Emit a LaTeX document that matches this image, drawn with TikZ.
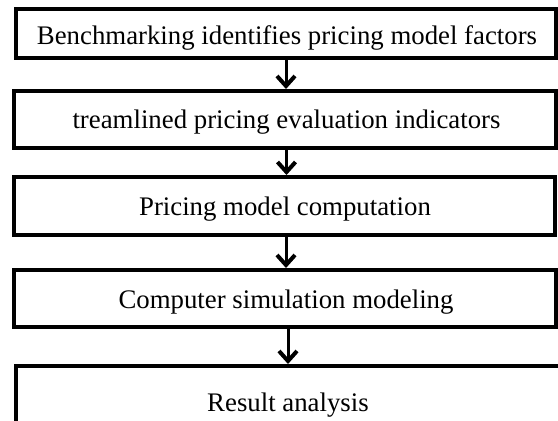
\documentclass[tikz,border=0pt]{standalone}
\usepackage{fontspec}
\setmainfont{Liberation Serif}
\usetikzlibrary{arrows.meta}
\begin{document}
\begin{tikzpicture}[x=1pt,y=-1pt,
  stepbox/.style={draw=black,line width=4pt,rectangle,inner sep=0pt},
  steptext/.style={anchor=base,inner sep=0pt,font=\fontsize{26.8pt}{30pt}\selectfont},
  arr/.style={draw=black,line width=3pt,-{Straight Barb[length=10pt,width=18pt,line width=4pt]}}]
\useasboundingbox (0,0) rectangle (558,421);
\clip (0,0) rectangle (558,421);
\node[stepbox,minimum width=540pt,minimum height=49pt] (b1) at (286,33.5) {};
\node[stepbox,minimum width=542pt,minimum height=57pt] (b2) at (285,119.5) {};
\node[stepbox,minimum width=541pt,minimum height=58pt] (b3) at (284.5,206) {};
\node[stepbox,minimum width=542pt,minimum height=57pt] (b4) at (285,298.5) {};
\node[stepbox,minimum width=584pt,minimum height=58pt] (b5) at (308,395) {};
\node[steptext] (t1) at (287,44) {Benchmarking identifies pricing model factors};
\node[steptext] (t2) at (286.5,128) {treamlined pricing evaluation indicators};
\node[steptext] (t3) at (285,215) {Pricing model computation};
\node[steptext] (t4) at (286,308) {Computer simulation modeling};
\node[steptext] (t5) at (288,411) {Result analysis};
\draw[arr] (b1.south) -- (b1.south |- b2.north);
\draw[arr] ([xshift=1.5pt]b2.south) -- ([xshift=1.5pt]b2.south |- b3.north);
\draw[arr] ([xshift=1.5pt]b3.south) -- ([xshift=1.5pt]b3.south |- b4.north);
\draw[arr] ([xshift=3pt]b4.south) -- ([xshift=3pt]b4.south |- b5.north);
\end{tikzpicture}
\end{document}
